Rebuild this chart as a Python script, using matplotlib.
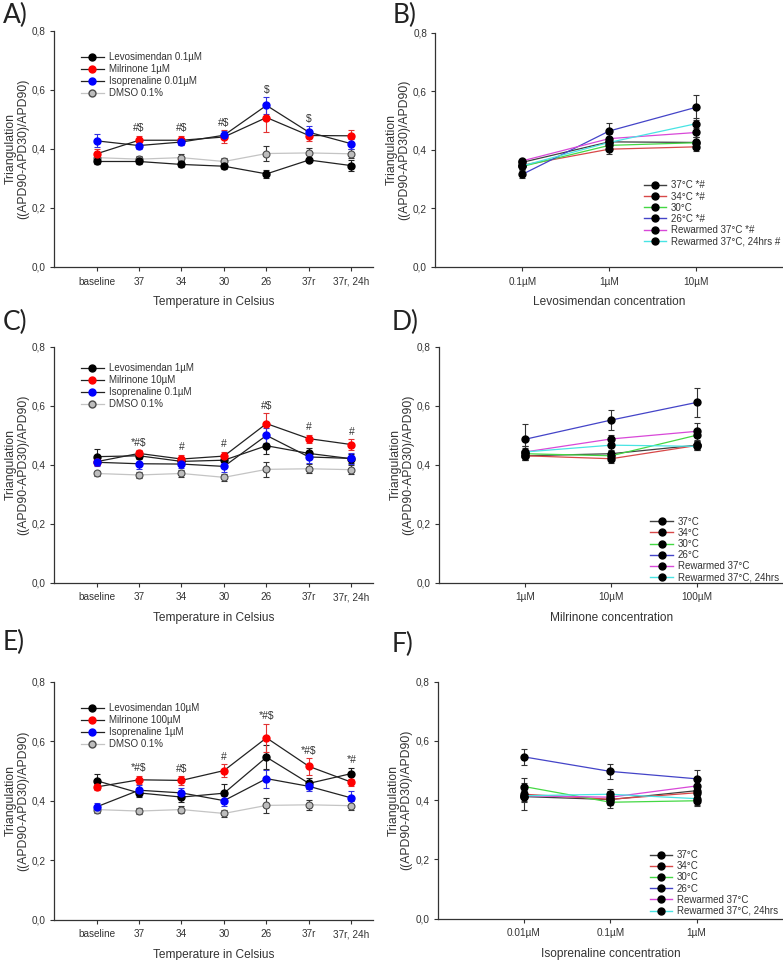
import matplotlib
matplotlib.use('Agg')
import matplotlib.pyplot as plt
import numpy as np
from matplotlib.lines import Line2D

plt.rcParams['font.family'] = ['Liberation Sans', 'DejaVu Sans']

# ---- data: left panels (temperature protocol) ----
temps = ['baseline', '37', '34', '30', '26', '37r', '37r, 24h']

dmso = [0.370, 0.365, 0.370, 0.357, 0.384, 0.386, 0.383]
dmso_err = [0.010, 0.010, 0.012, 0.012, 0.026, 0.016, 0.015]

levo_a = [0.357, 0.357, 0.347, 0.341, 0.315, 0.362, 0.343]
levo_a_err = [0.010, 0.008, 0.010, 0.010, 0.014, 0.006, 0.018]
milr_a = [0.383, 0.429, 0.429, 0.440, 0.506, 0.445, 0.444]
milr_a_err = [0.018, 0.015, 0.015, 0.022, 0.050, 0.020, 0.020]
iso_a = [0.427, 0.411, 0.423, 0.446, 0.547, 0.456, 0.417]
iso_a_err = [0.022, 0.012, 0.010, 0.014, 0.028, 0.020, 0.017]
marks_a = ['', '#$', '#$', '#$', '$', '$', '']

levo_c = [0.427, 0.430, 0.411, 0.415, 0.464, 0.438, 0.420]
levo_c_err = [0.027, 0.010, 0.012, 0.015, 0.028, 0.020, 0.015]
milr_c = [0.410, 0.438, 0.419, 0.429, 0.539, 0.488, 0.468]
milr_c_err = [0.010, 0.010, 0.015, 0.015, 0.035, 0.013, 0.018]
iso_c = [0.408, 0.403, 0.402, 0.394, 0.499, 0.426, 0.421]
iso_c_err = [0.013, 0.018, 0.015, 0.018, 0.025, 0.020, 0.018]
marks_c = ['', '*#$', '#', '#', '#$', '#', '#']

levo_e = [0.467, 0.426, 0.412, 0.425, 0.546, 0.458, 0.491]
levo_e_err = [0.022, 0.015, 0.018, 0.030, 0.040, 0.018, 0.020]
milr_e = [0.446, 0.470, 0.468, 0.501, 0.611, 0.515, 0.462]
milr_e_err = [0.010, 0.014, 0.014, 0.022, 0.048, 0.028, 0.012]
iso_e = [0.379, 0.435, 0.426, 0.400, 0.474, 0.448, 0.409]
iso_e_err = [0.013, 0.018, 0.015, 0.017, 0.030, 0.015, 0.022]
marks_e = ['', '*#$', '#$', '#', '*#$', '*#$', '*#']

# ---- data: right panels (concentration curves) ----
series_colors = ['#404040', '#d84848', '#44d844', '#4444c8', '#d848d8', '#48e4e4']

levo_conc = ['0.1\u00b5M', '1\u00b5M', '10\u00b5M']
b_labels = ['37\u00b0C *#', '34\u00b0C *#', '30\u00b0C', '26\u00b0C *#',
            'Rewarmed 37\u00b0C *#', 'Rewarmed 37\u00b0C, 24hrs #']
b_37 = [0.357, 0.427, 0.425]
b_34 = [0.347, 0.402, 0.410]
b_30 = [0.343, 0.415, 0.424]
b_26 = [0.316, 0.464, 0.545]
b_rw = [0.362, 0.438, 0.459]
b_24 = [0.345, 0.425, 0.489]
b_37_err = [0.008, 0.010, 0.018]
b_34_err = [0.010, 0.015, 0.015]
b_30_err = [0.010, 0.014, 0.018]
b_26_err = [0.014, 0.027, 0.043]
b_rw_err = [0.006, 0.015, 0.015]
b_24_err = [0.018, 0.015, 0.020]

milr_conc = ['1\u00b5M', '10\u00b5M', '100\u00b5M']
d_labels = ['37\u00b0C', '34\u00b0C', '30\u00b0C', '26\u00b0C',
            'Rewarmed 37\u00b0C', 'Rewarmed 37\u00b0C, 24hrs']
d_37 = [0.430, 0.437, 0.466]
d_34 = [0.430, 0.420, 0.465]
d_30 = [0.437, 0.430, 0.500]
d_26 = [0.486, 0.551, 0.611]
d_rw = [0.443, 0.487, 0.513]
d_24 = [0.443, 0.466, 0.462]
d_37_err = [0.015, 0.010, 0.014]
d_34_err = [0.015, 0.015, 0.014]
d_30_err = [0.020, 0.015, 0.022]
d_26_err = [0.050, 0.033, 0.048]
d_rw_err = [0.020, 0.013, 0.028]
d_24_err = [0.020, 0.018, 0.012]

iso_conc = ['0.01\u00b5M', '0.1\u00b5M', '1\u00b5M']
f_labels = d_labels
f_37 = [0.412, 0.402, 0.432]
f_34 = [0.420, 0.403, 0.425]
f_30 = [0.446, 0.393, 0.398]
f_26 = [0.546, 0.497, 0.472]
f_rw = [0.415, 0.410, 0.448]
f_24 = [0.415, 0.420, 0.405]
f_37_err = [0.045, 0.018, 0.018]
f_34_err = [0.012, 0.015, 0.015]
f_30_err = [0.028, 0.018, 0.017]
f_26_err = [0.028, 0.025, 0.030]
f_rw_err = [0.020, 0.020, 0.015]
f_24_err = [0.017, 0.018, 0.022]

yticks = [0.0, 0.2, 0.4, 0.6, 0.8]
ytick_labels = ['0,0', '0,2', '0,4', '0,6', '0,8']
ylab = 'Triangulation\n((APD90-APD30)/APD90)'
axis_col = '#333333'


def style_axes(ax, cats, xlabel, xmax):
    ax.set_ylim(0, 0.8)
    ax.set_xlim(-1, xmax)
    ax.set_yticks(yticks)
    ax.set_yticklabels(ytick_labels)
    ax.set_xticks(np.arange(len(cats)))
    ax.set_xticklabels(cats)
    for s in ['top', 'right']:
        ax.spines[s].set_visible(False)
    for s in ['left', 'bottom']:
        ax.spines[s].set_color(axis_col)
        ax.spines[s].set_linewidth(0.9)
    ax.tick_params(colors=axis_col, labelsize=7.2, length=3, width=0.8, direction='out', pad=4)
    ax.tick_params(axis='y', pad=3)
    ax.set_xlabel(xlabel, fontsize=8.6, color=axis_col, labelpad=7)
    ax.set_ylabel(ylab, fontsize=8.8, color=axis_col, labelpad=2, linespacing=1.05)


def temp_panel(ax, levo, levo_err, milr, milr_err, iso, iso_err, names, marks, legend_y):
    x = np.arange(len(temps))
    kw = dict(capsize=2.5, elinewidth=0.8, capthick=0.8, markersize=5, lw=0.9)
    ax.errorbar(x, dmso, yerr=dmso_err, color='#c4c4c4', ecolor='#333333', marker='o',
                mfc='#bdbdbd', mec='#4a4a4a', mew=0.8, **kw)
    ax.errorbar(x, levo, yerr=levo_err, color='#222222', ecolor='#222222', marker='o',
                mfc='black', mec='black', **kw)
    ax.errorbar(x, milr, yerr=milr_err, color='#222222', ecolor='#e23232', marker='o',
                mfc='#ff0000', mec='#ff0000', **kw)
    ax.errorbar(x, iso, yerr=iso_err, color='#222222', ecolor='#3232e2', marker='o',
                mfc='#0000ff', mec='#0000ff', **kw)

    tops = np.max(np.array([np.add(levo, levo_err), np.add(milr, milr_err),
                            np.add(iso, iso_err), np.add(dmso, dmso_err)]), axis=0)
    for i, m in enumerate(marks):
        if m:
            ax.text(x[i], tops[i] + 0.025, m, ha='center', va='center', fontsize=7.5, color=axis_col)

    handles = [
        Line2D([], [], color='#222222', marker='o', mfc='black', mec='black', ms=5, lw=0.9),
        Line2D([], [], color='#222222', marker='o', mfc='#ff0000', mec='#ff0000', ms=5, lw=0.9),
        Line2D([], [], color='#222222', marker='o', mfc='#0000ff', mec='#0000ff', ms=5, lw=0.9),
        Line2D([], [], color='#c4c4c4', marker='o', mfc='#bdbdbd', mec='#4a4a4a', ms=5, lw=0.9),
    ]
    ax.legend(handles, names, loc='upper left', bbox_to_anchor=(0.07, legend_y), frameon=False,
              fontsize=7, handlelength=2.3, handletextpad=0.6, labelspacing=0.2, borderpad=0,
              labelcolor=axis_col)
    style_axes(ax, temps, 'Temperature in Celsius', 6.5)


def conc_panel(ax, cats, vals, errs, labels, xlabel, legend_xy):
    x = np.arange(len(cats))
    handles = []
    for v, e, c in zip(vals, errs, series_colors):
        ax.errorbar(x, v, yerr=e, color=c, ecolor='#333333', marker='o', mfc='black', mec='black',
                    markersize=5, lw=0.9, capsize=2.5, elinewidth=0.8, capthick=0.8)
        handles.append(Line2D([], [], color=c, marker='o', mfc='black', mec='black', ms=5, lw=1.0))
    ax.legend(handles, labels, loc='upper left', bbox_to_anchor=legend_xy, frameon=False,
              fontsize=7, handlelength=2.3, handletextpad=0.5, labelspacing=0.12, borderpad=0,
              labelcolor=axis_col)
    style_axes(ax, cats, xlabel, 3)


fig = plt.figure(figsize=(7.83, 9.6), dpi=100)

ax_a = fig.add_axes([0.069, 0.722, 0.407, 0.246])
ax_b = fig.add_axes([0.556, 0.722, 0.444, 0.244])
ax_c = fig.add_axes([0.069, 0.393, 0.407, 0.246])
ax_d = fig.add_axes([0.561, 0.393, 0.439, 0.246])
ax_e = fig.add_axes([0.069, 0.042, 0.407, 0.248])
ax_f = fig.add_axes([0.559, 0.043, 0.441, 0.247])

temp_panel(ax_a, levo_a, levo_a_err, milr_a, milr_a_err, iso_a, iso_a_err,
           ['Levosimendan 0.1\u00b5M', 'Milrinone 1\u00b5M', 'Isoprenaline 0.01\u00b5M', 'DMSO 0.1%'],
           marks_a, 0.93)
temp_panel(ax_c, levo_c, levo_c_err, milr_c, milr_c_err, iso_c, iso_c_err,
           ['Levosimendan 1\u00b5M', 'Milrinone 10\u00b5M', 'Isoprenaline 0.1\u00b5M', 'DMSO 0.1%'],
           marks_c, 0.95)
temp_panel(ax_e, levo_e, levo_e_err, milr_e, milr_e_err, iso_e, iso_e_err,
           ['Levosimendan 10\u00b5M', 'Milrinone 100\u00b5M', 'Isoprenaline 1\u00b5M', 'DMSO 0.1%'],
           marks_e, 0.93)

conc_panel(ax_b, levo_conc, [b_37, b_34, b_30, b_26, b_rw, b_24],
           [b_37_err, b_34_err, b_30_err, b_26_err, b_rw_err, b_24_err],
           b_labels, 'Levosimendan concentration', (0.585, 0.39))
conc_panel(ax_d, milr_conc, [d_37, d_34, d_30, d_26, d_rw, d_24],
           [d_37_err, d_34_err, d_30_err, d_26_err, d_rw_err, d_24_err],
           d_labels, 'Milrinone concentration', (0.60, 0.30))
conc_panel(ax_f, iso_conc, [f_37, f_34, f_30, f_26, f_rw, f_24],
           [f_37_err, f_34_err, f_30_err, f_26_err, f_rw_err, f_24_err],
           f_labels, 'Isoprenaline concentration', (0.60, 0.31))

for lab, xx, yy in [('A)', 3, 3), ('B)', 393, 3), ('C)', 3, 310),
                    ('D)', 392, 310), ('E)', 3, 630), ('F)', 392, 632)]:
    fig.text(xx / 783, 1 - yy / 960, lab, ha='left', va='top', fontsize=19,
             family=['Lato', 'DejaVu Sans'], color='#222222')

fig.savefig('out.png', dpi=100)
